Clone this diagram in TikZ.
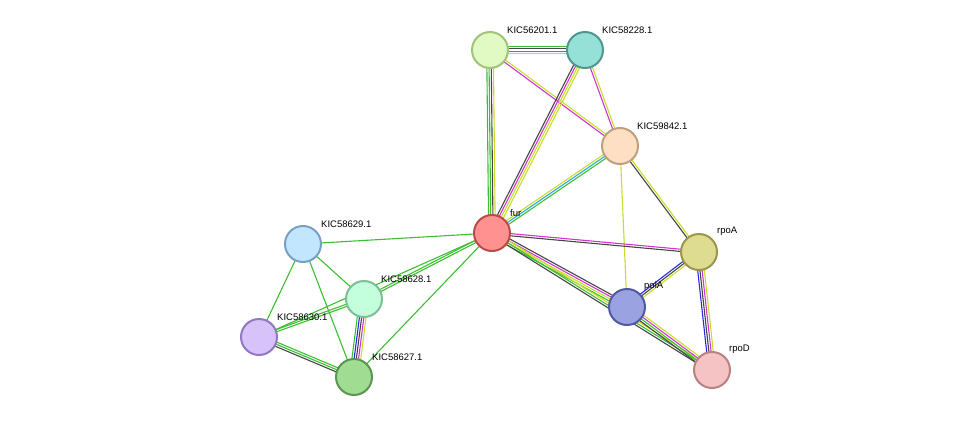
\documentclass[tikz,border=0pt]{standalone}
\usepackage{fontspec}
\setmainfont{Liberation Sans}
\usetikzlibrary{calc,backgrounds}
\definecolor{eG}{RGB}{60,190,50}
\definecolor{eY}{RGB}{200,220,40}
\definecolor{eM}{RGB}{210,50,210}
\definecolor{eD}{RGB}{70,70,70}
\definecolor{eB}{RGB}{40,40,230}
\definecolor{eC}{RGB}{40,170,220}
\tikzset{
  prot/.style={draw,circle,line width=2pt,minimum size=36pt,inner sep=0pt},
  lab/.style={font=\fontsize{9.5}{11}\selectfont,anchor=south west,inner sep=1pt},
}
\newcommand{\link}[3]{%
  \foreach \c [count=\i] in {#3} {\xdef\nlinks{\i}}%
  \foreach \c [count=\i] in {#3} {%
    \pgfmathsetmacro{\off}{(\i-(\nlinks+1)/2)*2.2}%
    \draw[draw=\c,line width=1.1pt] ($(#1)!\off pt!90:(#2)$) -- ($(#2)!\off pt!-90:(#1)$);}}
\begin{document}
\begin{tikzpicture}[x=1pt,y=-1pt]
\useasboundingbox (0,0) rectangle (975,423);
\node[prot,fill={rgb,255:red,225;green,250;blue,195},draw={rgb,255:red,160;green,195;blue,120}] (K56201) at (490,50) {};
\node[prot,fill={rgb,255:red,150;green,225;blue,215},draw={rgb,255:red,80;green,150;blue,140}] (K58228) at (585,50) {};
\node[prot,fill={rgb,255:red,255;green,223;blue,195},draw={rgb,255:red,190;green,160;blue,125}] (K59842) at (620,146) {};
\node[prot,fill={rgb,255:red,255;green,145;blue,145},draw={rgb,255:red,185;green,75;blue,75}] (fur) at (492,233) {};
\node[prot,fill={rgb,255:red,222;green,220;blue,145},draw={rgb,255:red,155;green,150;blue,75}] (rpoA) at (699,252) {};
\node[prot,fill={rgb,255:red,155;green,162;blue,225},draw={rgb,255:red,80;green,90;blue,160}] (polA) at (627,307) {};
\node[prot,fill={rgb,255:red,245;green,195;blue,195},draw={rgb,255:red,185;green,130;blue,130}] (rpoD) at (712,370) {};
\node[prot,fill={rgb,255:red,195;green,230;blue,255},draw={rgb,255:red,120;green,160;blue,195}] (K58629) at (303,244) {};
\node[prot,fill={rgb,255:red,195;green,255;blue,220},draw={rgb,255:red,125;green,190;blue,150}] (K58628) at (364,299) {};
\node[prot,fill={rgb,255:red,215;green,195;blue,250},draw={rgb,255:red,145;green,120;blue,195}] (K58630) at (259,337) {};
\node[prot,fill={rgb,255:red,160;green,220;blue,145},draw={rgb,255:red,90;green,150;blue,80}] (K58627) at (354,377) {};
\node[lab] at (506,35) {KIC56201.1};
\node[lab] at (601,35) {KIC58228.1};
\node[lab] at (636,131) {KIC59842.1};
\node[lab] at (509,218) {fur};
\node[lab] at (716,237) {rpoA};
\node[lab] at (643,292) {polA};
\node[lab] at (728,355) {rpoD};
\node[lab] at (320,229) {KIC58629.1};
\node[lab] at (380,284) {KIC58628.1};
\node[lab] at (276,322) {KIC58630.1};
\node[lab] at (371,362) {KIC58627.1};
\begin{scope}[on background layer]
\link{K56201}{K58228}{eY,eM,eD,eG}
\link{K56201}{K59842}{eM,eY}
\link{K56201}{fur}{eG,eG,eD,eY}
\link{K58228}{fur}{eD,eM,eY,eY}
\link{K58228}{K59842}{eM,eY}
\link{K59842}{fur}{eY,eC,eG}
\link{K59842}{rpoA}{eD,eY}
\link{K59842}{polA}{eY}
\link{fur}{rpoA}{eD,eM}
\link{fur}{polA}{eG,eY,eM,eD}
\link{fur}{rpoD}{eD,eG,eY}
\link{rpoA}{polA}{eB,eD,eY}
\link{rpoA}{rpoD}{eB,eD,eM,eY}
\link{polA}{rpoD}{eD,eG,eM,eY}
\link{fur}{K58629}{eG}
\link{fur}{K58628}{eG,eG}
\link{fur}{K58630}{eG}
\link{fur}{K58627}{eG}
\link{K58629}{K58628}{eG}
\link{K58629}{K58630}{eG}
\link{K58629}{K58627}{eG}
\link{K58628}{K58630}{eG,eG}
\link{K58628}{K58627}{eG,eB,eD,eM,eY}
\link{K58630}{K58627}{eD,eG,eG}
\end{scope}
\end{tikzpicture}
\end{document}
